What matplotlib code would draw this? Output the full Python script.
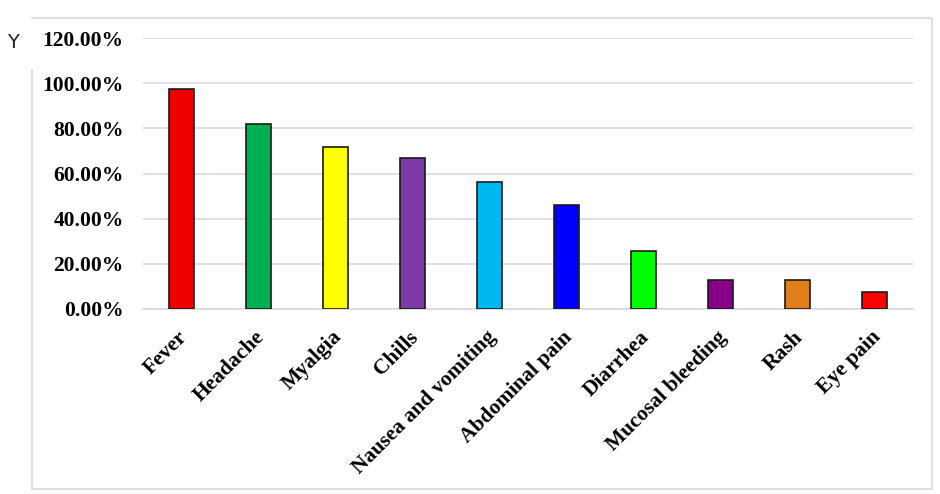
import matplotlib
matplotlib.use("Agg")
import matplotlib.pyplot as plt
from matplotlib.lines import Line2D
from matplotlib.ticker import FuncFormatter
import matplotlib.transforms as mtransforms

categories = ["Fever", "Headache", "Myalgia", "Chills", "Nausea and vomiting",
              "Abdominal pain", "Diarrhea", "Mucosal bleeding", "Rash", "Eye pain"]
values = [0.974, 0.821, 0.718, 0.667, 0.564, 0.462, 0.256, 0.128, 0.128, 0.077]
colors = ["#EE0000", "#00B050", "#FFFF00", "#7B3AA8", "#00B8F0",
          "#0000FF", "#00FF00", "#880088", "#E07E1C", "#FF0000"]
yticks = [0.0, 0.2, 0.4, 0.6, 0.8, 1.0, 1.2]

W, H = 940, 494
fig = plt.figure(figsize=(W / 100, H / 100), dpi=100)
ax = fig.add_axes([143 / W, 1 - 309 / H, (913 - 143) / W, (309 - 38) / H])

x = list(range(len(categories)))
ax.bar(x, values, width=0.33, color=colors, edgecolor="#1a1a1a", linewidth=1.2, zorder=3)
ax.set_xlim(-0.5, len(categories) - 0.5)
ax.set_ylim(0, 1.2)
ax.set_yticks(yticks)
ax.yaxis.set_major_formatter(FuncFormatter(lambda v, p: f"{v*100:.2f}%"))
ax.grid(axis="y", color="#D9D9D9", linewidth=1.2, zorder=0)
ax.set_axisbelow(True)
for s in ["top", "right", "left"]:
    ax.spines[s].set_visible(False)
ax.spines["bottom"].set_color("#D9D9D9")
ax.spines["bottom"].set_linewidth(1.2)
ax.tick_params(axis="both", length=0)
ax.tick_params(axis="y", pad=14)
ax.tick_params(axis="x", pad=13)
ax.set_xticks(x)
ax.set_xticklabels(categories, rotation=45, ha="right", rotation_mode="anchor")
offset = mtransforms.ScaledTranslation(-4 / 100, 0, fig.dpi_scale_trans)
for lab in ax.get_xticklabels():
    lab.set_transform(lab.get_transform() + offset)
    lab.set_fontsize(15.5)
for lab in ax.get_yticklabels():
    lab.set_fontsize(15.5)
for lab in ax.get_xticklabels() + ax.get_yticklabels():
    lab.set_fontfamily("Liberation Serif")
    lab.set_fontweight("bold")

fig.text(13 / W, 1 - 43 / H, "Y", fontsize=14, family="DejaVu Sans",
         ha="center", va="center", color="#222222")

# outer frame (gap on the left edge near the "Y")
fc = "#D9D9D9"
pts = [(32, 70), (32, 489), (932, 489), (932, 18), (32, 18)]
xs = [p[0] / W for p in pts]
ys = [1 - p[1] / H for p in pts]
fig.add_artist(Line2D(xs, ys, color=fc, linewidth=1.2, transform=fig.transFigure))

fig.savefig("out.png", dpi=100)
